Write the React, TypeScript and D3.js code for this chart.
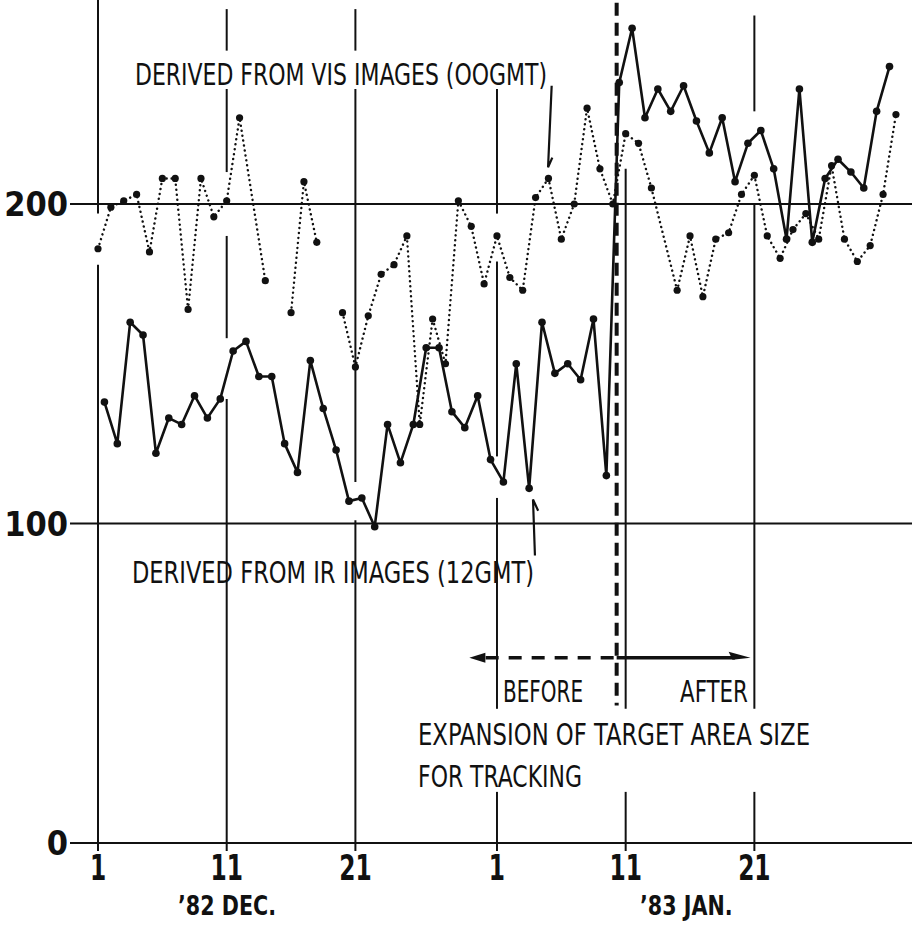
import { useEffect, useRef } from 'react';
import * as d3 from 'd3';

// day index 0 = 1 Dec 1982 (00GMT)
// IR-derived values, 12GMT -> plotted at day + 0.5
const irValues = [
  138, 125, 163, 159, 122, 133, 131, 140, 133, 139,
  154, 157, 146, 146, 125, 116, 151, 136, 123, 107,
  108, 99, 131, 119, 131, 155, 155, 135, 130, 140,
  120, 113, 150, 111, 163, 147, 150, 145, 164, 115,
  238, 255, 227, 236, 229, 237, 226, 216, 227, 207,
  219, 223, 211, 189, 236, 188, 208, 214, 210, 205,
  229, 243,
];

// VIS-derived values, 00GMT, null = no observation
const visValues = [
  186, 199, 201, 203, 185, 208, 208, 167, 208, 196,
  201, 227, null, 176, null, 166, 207, 188, null, 166,
  149, 165, 178, 181, 190, 131, 164, 150, 201, 193,
  175, 190, 177, 173, 202, 208, 189, 200, 230, 211,
  200, 222, 219, 205, null, 173, 190, 171, 189, 191,
  203, 209, 190, 183, 192, 197, 189, 212, 189, 182,
  187, 203, 228,
];
// missing days where the dotted line is not joined
const visBreaks = [14, 18];

const gridDays = [0, 10, 20, 31, 41, 51];
const tickLabels = ['1', '11', '21', '1', '11', '21'];
const yTicks = [0, 100, 200];
const monthLabels = ['\u201982  DEC.', '\u201983  JAN.'];

// hand-drawn grid: top of each vertical line and the gaps left in it (value units)
const gridTop = [264, 261, 261, 236, 211, 259];
const gridGaps = [
  [[197, 181]],
  [[248, 236], [210, 190], [158, 139]],
  [[248, 236], [113, 101]],
  [[197, 182], [121, 108], [42, 16]],
  [[42, 16]],
  [[229, 200], [42, 16]],
];

const changeDay = 40.3; // target area expanded
const FONT = "'DejaVu Sans Condensed', 'DejaVu Sans', sans-serif";

const App = () => {
  const ref = useRef<SVGSVGElement>(null);

  useEffect(() => {
    const W = 912, H = 935;
    const svg = d3.select(ref.current);
    svg.selectAll('*').remove();
    svg.attr('width', W).attr('height', H);

    const x = d3.scaleLinear().domain([0, 62]).range([98, 98 + 62 * 12.87]);
    const y = d3.scaleLinear().domain([0, 200]).range([843, 204]);
    const ink = '#111';

    // horizontal lines
    svg.append('g').selectAll('line').data(yTicks).join('line')
      .attr('x1', 70).attr('x2', W)
      .attr('y1', d => y(d)).attr('y2', d => y(d))
      .attr('stroke', ink).attr('stroke-width', 2);

    svg.append('g').selectAll('text').data(yTicks).join('text')
      .attr('x', 68).attr('y', d => y(d) + 12)
      .attr('text-anchor', 'end')
      .attr('font-family', FONT)
      .attr('font-weight', 'bold').attr('font-size', 34)
      .attr('fill', ink)
      .text(d => d);

    // vertical lines, drawn as pieces between gaps
    const vg = svg.append('g');
    gridDays.forEach((day, i) => {
      let top = gridTop[i];
      const pieces: [number, number][] = [];
      gridGaps[i].forEach(([a, b]) => { pieces.push([top, a]); top = b; });
      pieces.push([top, -2.5]);
      pieces.forEach(([a, b]) => {
        vg.append('line')
          .attr('x1', x(day)).attr('x2', x(day))
          .attr('y1', y(a)).attr('y2', y(b))
          .attr('stroke', ink).attr('stroke-width', 2);
      });
    });

    svg.append('g').selectAll('text').data(gridDays).join('text')
      .attr('transform', d => `translate(${x(d)},880) scale(0.72,1)`)
      .attr('text-anchor', 'middle')
      .attr('font-family', FONT).attr('font-weight', 'bold').attr('font-size', 36)
      .attr('fill', ink)
      .text((d, i) => tickLabels[i]);

    const month = (t: string, tx: number) =>
      svg.append('text')
        .attr('transform', `translate(${tx},915) scale(0.85,1)`)
        .attr('font-family', FONT).attr('font-weight', 600).attr('font-size', 27)
        .attr('fill', ink)
        .text(t);
    month(monthLabels[0], 178);
    month(monthLabels[1], 640);

    // VIS dotted series
    const visPts = visValues
      .map((v, d) => ({ d, v }))
      .filter(p => p.v !== null) as { d: number; v: number }[];
    const segments: { d: number; v: number }[][] = [];
    let cur: { d: number; v: number }[] = [];
    visPts.forEach((p, i) => {
      if (i > 0 && visBreaks.some(b => b > visPts[i - 1].d && b < p.d)) {
        segments.push(cur);
        cur = [];
      }
      cur.push(p);
    });
    segments.push(cur);

    const line = d3.line<{ d: number; v: number }>().x(p => x(p.d)).y(p => y(p.v));
    svg.append('g').selectAll('path').data(segments).join('path')
      .attr('d', line)
      .attr('fill', 'none').attr('stroke', ink)
      .attr('stroke-width', 2.4).attr('stroke-linecap', 'round')
      .attr('stroke-dasharray', '0.1 4.9');
    svg.append('g').selectAll('circle').data(visPts).join('circle')
      .attr('cx', p => x(p.d)).attr('cy', p => y(p.v)).attr('r', 3.6)
      .attr('fill', ink);

    // IR solid series
    const irPts = irValues.map((v, i) => ({ d: i + 0.5, v }));
    svg.append('path').datum(irPts)
      .attr('d', line)
      .attr('fill', 'none').attr('stroke', ink)
      .attr('stroke-width', 2.6).attr('stroke-linejoin', 'round');
    svg.append('g').selectAll('circle').data(irPts).join('circle')
      .attr('cx', p => x(p.d)).attr('cy', p => y(p.v)).attr('r', 3.8)
      .attr('fill', ink);

    // series labels and pointers
    const note = (t: string, tx: number, ty: number, len: number) =>
      svg.append('text').attr('x', tx).attr('y', ty)
        .attr('font-family', FONT).attr('font-size', 30).attr('fill', ink)
        .attr('textLength', len).attr('lengthAdjust', 'spacingAndGlyphs')
        .text(t);

    note('DERIVED FROM VIS IMAGES (OOGMT)', 135, 85, 412);
    svg.append('path')
      .attr('d', `M${x(35.25)},${y(237)} L${x(34.97)},${y(211.5)} L${x(35.3)},${y(214.5)}`)
      .attr('fill', 'none').attr('stroke', ink).attr('stroke-width', 2.2);

    note('DERIVED FROM IR IMAGES (12GMT)', 132, 583, 402);
    svg.append('path')
      .attr('d', `M${x(33.95)},${y(90)} L${x(33.8)},${y(107.5)} L${x(34.2)},${y(104)}`)
      .attr('fill', 'none').attr('stroke', ink).attr('stroke-width', 2.2);

    // before / after marker
    svg.append('line')
      .attr('x1', x(changeDay)).attr('x2', x(changeDay))
      .attr('y1', y(263)).attr('y2', y(43))
      .attr('stroke', ink).attr('stroke-width', 4)
      .attr('stroke-dasharray', '13 7');

    const ay = y(58);
    svg.append('line')
      .attr('x1', x(changeDay) - 3).attr('x2', x(29.9))
      .attr('y1', ay).attr('y2', ay)
      .attr('stroke', ink).attr('stroke-width', 3.5)
      .attr('stroke-dasharray', '13 10');
    svg.append('path')
      .attr('d', `M${x(28.85)},${ay} L${x(30.1)},${ay - 5} L${x(30.1)},${ay + 5} Z`)
      .attr('fill', ink);
    svg.append('line')
      .attr('x1', x(changeDay)).attr('x2', x(49.5))
      .attr('y1', ay).attr('y2', ay)
      .attr('stroke', ink).attr('stroke-width', 3.5);
    svg.append('path')
      .attr('d', `M${x(50.7)},${ay} L${x(49.0)},${ay - 6} L${x(49.3)},${ay + 2} Z`)
      .attr('fill', ink);

    note('BEFORE', 503, 702, 80);
    note('AFTER', 680, 702, 68);
    note('EXPANSION OF TARGET AREA SIZE', 418, 745, 392);
    note('FOR TRACKING', 418, 787, 164);
  }, []);

  return (
    <svg ref={ref} style={{ position: 'absolute', left: 0, top: 0, background: '#fff' }} />
  );
};

export default App;
